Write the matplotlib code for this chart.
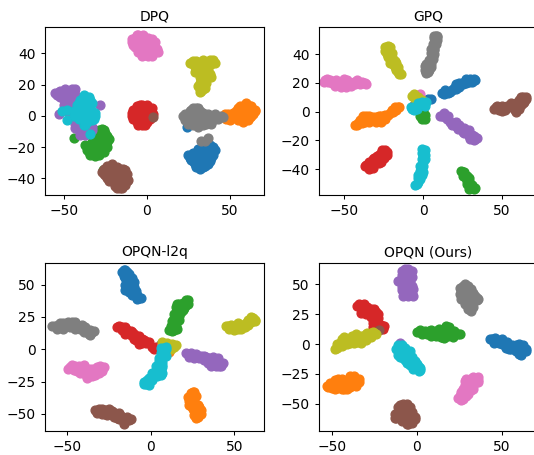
import matplotlib.pyplot as plt

# tsne points, one list per class
dpq_blue = [(24,-7),(25,-25),(27,-28),(29,-31),(32,-34),(35,-32),(38,-29),(40,-25),(41,-22),(38,-19),(34,-19),(31,-21),(30,-25),(33,-27),(36,-25),(37,-22),(32,-30),(28,-24),(34,-23),(39,-27),
            (26,-27),(28,-29),(30,-33),(34,-33),(37,-31),(39,-24),(40,-20),(36,-20),(32,-23),(35,-28),(30,-28),(38,-23),(27,-26),(33,-31),(36,-29)]
dpq_orange = [(41,0),(48,-2),(49,1),(52,-1),(55,-3),(58,-4),(61,-3),(63,0),(65,4),(62,6),(60,7),(57,4),(54,3),(58,1),(61,2),(53,0),(56,-1),(60,-1),(63,3),(58,6),
              (50,0),(47,1),(47,-1),(50,-3),(52,2),(55,1),(55,5),(58,3),(60,4),(64,1),(62,-1),(59,-3),(57,-2),(60,8),(63,6),(56,6),(65,3)]
dpq_green = [(-44,-14),(-36,-20),(-35,-23),(-31,-26),(-28,-23),(-26,-20),(-24,-17),(-24,-13),(-26,-9),(-27,-8.5),(-30,-13),(-33,-17),(-30,-19),(-27,-15),(-31,-22),(-34,-21),(-28,-11),(-25,-15),(-26.5,-35),
             (-37,-19),(-34,-25),(-33,-24),(-29,-25),(-36,-22),(-26,-23),(-24,-20),(-23,-15),(-25,-11),(-28,-17),(-32,-14),(-29,-9),(-33,-20),(-28,-20),(-26,-17),(-30,-16)]
dpq_red = [(-9,0),(-8,4),(-6,6),(-3,7),(0,7),(3,5),(4,1),(2,-2),(0,-4),(-3,-6),(-6,-4),(-8,-2),(-4,2),(-1,3),(-2,-1),(1,1),(-5,-1),(-3,4),
           (-7,2),(-9,2),(-4,7),(-1,6),(3,2),(2,3),(2,-1),(-1,-6),(-5,-6),(-7,-2),(-1,0),(-3,1),(-6,3),(1,-2),(-3,-3),(-1,5)]
dpq_purple = [(-55,14.5),(-52,16),(-49,17),(-45,17),(-44,15),(-52,12),(-50,10),(-47,13),(-45,10),(-49,6),(-46,6),(-53,1),(-28,7),(-42,3),(-43,-5),(-41,-9),(-39,-11),(-36,-9),(-33,-7),(-38,-6),(-50,13),
              (-54,13),(-53,15),(-51,14),(-48,15),(-46,16),(-48,11),(-43,17),(-43,13),(-50,7),(-47,8),(-43,8),(-48,3),(-44,5),(-44,-2),(-40,-12),(-37,-12),(-34,-9),(-33,-9),(-41,-6),(-43,-8)]
dpq_brown = [(4,-0.5),(-27,-36),(-24,-32),(-21,-31),(-18,-33),(-14,-34),(-12,-37),(-11,-41),(-13,-44),(-16,-46),(-19,-45),(-21,-42),(-24,-40),(-26,-37),(-22,-36),(-18,-38),(-15,-40),(-18,-42),(-21,-38),(-15,-36),
             (-25,-38),(-22,-40),(-19,-34),(-16,-34),(-13,-35),(-13,-40),(-15,-43),(-17,-44),(-20,-41),(-23,-33),(-26,-34),(-16,-38),(-20,-36),(-18,-46),(-12,-42),(-15,-46),(-24,-37),(-23,-42)]
dpq_pink = [(-9,47),(-7,50),(-5,52),(-2,52),(1,50),(5,47),(6,43),(4,40),(1,38),(-3,38),(-5,41),(-7,44),(-3,45),(0,45),(2,42),(-2,48),(-3,41),(2,47),
            (-8,45),(-9,49),(-6,52),(-4,50),(-1,50),(3,49),(5,44),(7,41),(3,38),(-1,39),(-4,43),(-6,47),(-1,42),(2,44),(4,46),(1,48),(-5,48),(-2,46)]
dpq_gray = [(22,0),(24,-2),(25,-5),(28,-6),(31,-7),(34,-6),(37,-4),(40,-3),(43,-2),(45,0),(41,1),(37,1),(34,2),(31,5),(28,5),(26,3),(29,1),(32,-2),(28,-2),(36,-2),(35,-16),(33,-16),(37,-14),
            (23,1),(26,-4),(23,-3),(26,-1),(27,1),(27,4),(30,3),(30,-4),(33,-1),(33,1),(33,-4),(35,-1),(38,-2),(39,0),(42,-1),(44,-1),(46,-1),(39,-5),(36,-5),(30,5),(32,3)]
dpq_olive = [(27,34),(29,31),(31,28),(32,25),(32,21),(32,17),(33,16),(35,18),(36,21),(39,25),(41,34),(38,36),(34,36),(31,34),(30,35),(35,32),(37,30),(34,27),(36,25),(33,30),
             (26,34),(28,35),(29,28),(32,29),(36,34),(39,33),(40,36),(36,28),(37,34),(33,33),(33,23),(34,20),(31,19),(32,15),(34,17),(38,27)]
dpq_cyan = [(-48,4),(-51,3),(-48,-3),(-34,-11.5),(-40,4),(-37,12),(-35,12),(-33,8),(-33,3),(-31,0),(-33,-3),(-36,-4),(-38,-6),(-41,-2),(-43,1),(-41,8),(-38,9),(-36,5),(-37,0),(-40,3),(-34,6),(-39,11),
            (-44,0),(-44,3),(-41,0),(-39,-2),(-36,-2),(-34,-1),(-32,-2),(-31,2),(-34,1),(-38,-3),(-37,3),(-42,5),(-39,6),(-37,7),(-35,9),(-42,7),(-40,10),(-36,10),(-34,10),(-38,13),(-37,-6)]

gpq_blue = [(5,9),(3,9),(12,13),(15,14),(17,14),(20,17),(22,18),(24,19),(26,21),(29,21),(32,23),(28,22),(23,20),(18,15),(25,19),
            (13,12),(14,15),(16,13),(19,16),(21,16),(21,19),(23,17),(27,20),(30,23),(31,21),(33,22),(27,23)]
gpq_orange = [(-43,-9),(-41,-8),(-38,-6),(-38,-3),(-35,-5),(-32,-6),(-29,-6),(-26,-5),(-25,-3),(-22,-2),(-19,0),(-17,2),(-15,3),(-36,-3),(-32,-4),(-28,-3),
              (-42,-9),(-40,-6),(-39,-8),(-37,-7),(-34,-7),(-34,-3),(-30,-4),(-30,-7),(-27,-7),(-24,-5),(-24,-2),(-27,-3),(-21,-1),(-20,1),(-18,3),(-16,3),(-17,1)]
gpq_green = [(-1,-5),(0,-4),(-1,-2),(0,1),(25,-42),(26,-44),(27,-46),(29,-48),(30,-50),(30,-53),(32,-54),(28,-45),
             (-2,-3),(1,-2),(-1,0),(1,-5),(24,-41),(26,-42),(25,-45),(28,-48),(29,-46),(28,-50),(31,-51),(29,-54),(33,-53)]
gpq_red = [(-36,-37),(-34,-40),(-33,-37),(-31,-35),(-29,-33),(-30,-36),(-27,-35),(-25,-32),(-24,-29),(-26,-27),(-23,-30),(-28,-30),(-31,-32),(-6,5),
           (-37,-38),(-35,-38),(-32,-39),(-34,-35),(-32,-33),(-28,-36),(-29,-31),(-26,-33),(-27,-29),(-24,-27),(-23,-28),(-25,-30),(-30,-34)]
gpq_purple = [(12,-3),(14,-4),(17,-7),(20,-9),(21,-10),(24,-11),(27,-13),(28,-15),(31,-16),(33,-19),(30,-19),(25,-14),(19,-8),
              (11,-3),(13,-1),(15,-5),(16,-3),(18,-9),(21,-7),(22,-12),(23,-9),(26,-11),(26,-15),(29,-13),(29,-17),(32,-17),(34,-18),(32,-20)]
gpq_brown = [(46,3),(49,2),(51,3),(50,0.5),(53,4),(58,5),(58,1),(60,3),(62,5),(61,8),(63,10),(65,9),(63,6),(55,5),(60,7),
             (45,2),(47,4),(48,1),(52,1),(50,4),(56,3),(56,6),(57,3),(59,0),(61,2),(59,6),(62,10),(64,7),(65,10),(62,7)]
gpq_pink = [(-62,22),(-60,21),(-58,20),(-55,19),(-52,19),(-50,18),(-50,23),(-47,20),(-44,21),(-41,21),(-38,20),(-55,22),(-45,19),(-2,12),(-37,20),
            (-63,21),(-61,23),(-59,22),(-57,21),(-56,18),(-53,21),(-52,17),(-51,21),(-49,17),(-48,22),(-46,18),(-43,19),(-42,22),(-40,19),(-39,21),(-36,19)]
gpq_gray = [(2,28),(3,31),(1,32),(4,33),(5,36),(6,39),(6,42),(7,44),(8,47),(8,50),(9,52),(8,53),(7,43),(4,29),
            (1,29),(2,27),(3,28),(2,33),(3,34),(5,31),(5,33),(4,36),(6,37),(5,41),(7,40),(5,44),(7,46),(6,47),(8,49),(7,51),(9,50),(9,53),(7,53)]
gpq_olive = [(-23,44),(-24,42),(-22,41),(-21,37),(-20,34),(-18,35),(-18,31),(-16,28),(-15,26),(-20,38),(-22,46),(-7,11),(-5,9),(-6,12),(-3,10),(-1,8),
             (-24,45),(-23,40),(-22,43),(-21,45),(-20,41),(-22,38),(-21,34),(-19,33),(-19,36),(-17,34),(-17,29),(-16,31),(-15,28),(-14,26)]
gpq_cyan = [(-4,-50),(-2,-47),(-1,-44),(-2,-41),(-1,-38),(0,-35),(0,-31),(0,-28),(1,-30),(-1,-42),(-7,2),(-5,3),(-2,5),(-1,7),(1,6),
            (-5,-51),(-3,-49),(-3,-44),(0,-42),(-2,-38),(0,-38),(-1,-33),(1,-33),(-1,-29),(1,-27),(-1,-26),(-3,-46),(-8,3),(-6,1),(-4,2),(-3,6),(1,4),(2,7),(-1,5)]

l2q_blue = [(-16,61),(-14,60),(-16,57),(-13,56),(-12,53),(-14,48),(-12,46),(-10,48),(-10,44),(-8,42),(-7,40),(-11,50),(6,4),
            (-17,60),(-15,61),(-15,55),(-14,58),(-13,58),(-11,55),(-15,50),(-15,46),(-13,50),(-13,44),(-11,42),(-9,45),(-9,41),(-8,39),(-6,40),(-10,52),(-11,47),(7,2)]
l2q_orange = [(25,-33),(24,-36),(23,-40),(25,-42),(25,-46),(27,-49),(28,-52),(30,-47),(28,-43),(26,-38),(26,-33),(11,-2),
              (24,-34),(25,-38),(22,-37),(24,-44),(26,-41),(26,-47),(28,-46),(29,-45),(29,-50),(26,-51),(30,-50),(27,-53),(27,-36),(29,-49),(23,-43)]
l2q_green = [(12,18),(13,16),(16,16),(14,20),(16,24),(14,27),(17,30),(16,35),(19,33),(20,32),(22,38),(21,34),(17,26),(18,29),
             (11,15),(14,15),(15,18),(13,22),(15,21),(15,27),(17,23),(14,24),(16,30),(17,35),(15,33),(19,36),(22,35),(21,38),(19,30),(13,14)]
l2q_red = [(-19,18),(-17,17),(-14,15),(-15,12),(-12,11),(-9,10),(-9,7),(-6,8),(-5,5),(-2,6),(-12,14),(-7,6),(3,2),(5,1),
           (-20,17),(-17,15),(-15,17),(-13,13),(-16,14),(-11,13),(-10,8),(-8,9),(-7,10),(-4,7),(-5,8),(-3,5),(-1,6),(-10,12),(-7,4),(1,2),(2,0)]
l2q_purple = [(22,-4),(25,-5),(28,-6),(29,-7),(33,-6),(35,-7),(36,-11),(39,-8),(41,-10),(42,-13),(38,-12),(32,-5),
              (21,-3),(23,-6),(24,-3),(27,-4),(26,-7),(30,-5),(32,-8),(34,-9),(37,-6),(37,-9),(40,-7),(40,-12),(43,-11),(41,-13),(34,-11),(36,-13),(39,-13)]
l2q_brown = [(-30,-48),(-27,-47),(-27,-50),(-24,-50),(-21,-49),(-20,-53),(-18,-51),(-15,-53),(-16,-56),(-13,-55),(-24,-48),
             (-33,-47),(-32,-49),(-29,-46),(-29,-50),(-26,-51),(-25,-46),(-22,-52),(-23,-48),(-19,-49),(-19,-54),(-17,-54),(-14,-52),(-16,-58),(-12,-54),(-31,-46)]
l2q_pink = [(-48,-14),(-45,-13),(-44,-17),(-41,-15),(-39,-19),(-37,-15),(-37,-21),(-34,-18),(-31,-18),(-29,-15),(-32,-14),(-41,-17),(7,3),
            (-49,-15),(-47,-12),(-46,-16),(-43,-13),(-42,-18),(-40,-12),(-38,-17),(-36,-18),(-35,-15),(-35,-21),(-33,-20),(-31,-15),(-29,-17),(-28,-14),(-30,-13),(-38,-22),(-45,-15)]
l2q_gray = [(-57,18),(-55,19),(-53,17),(-50,20),(-48,17),(-46,18),(-47,21),(-44,19),(-42,16),(-38,15),(-37,12),(-35,13),(-39,17),
            (-59,18),(-56,16),(-54,20),(-52,20),(-51,17),(-49,21),(-45,21),(-45,16),(-41,19),(-40,15),(-40,13),(-36,15),(-36,11),(-34,14),(-48,19),(-52,16)]
l2q_olive = [(46,18),(49,17),(51,19),(54,16),(55,19),(57,20),(59,22),(61,24),(60,21),(8,4),(11,3),(14,2),(12,0),(10,5),
             (45,18),(47,16),(48,19),(50,15),(52,16),(52,20),(53,18),(56,17),(58,19),(58,23),(60,25),(62,23),(62,22),(9,2),(7,6),(13,4),(15,3),(10,0)]
l2q_cyan = [(-3,-27),(-2,-24),(1,-21),(3,-19),(3,-16),(5,-13),(7,-18),(7,-10),(7,-6),(8,-3),(8,1),(7,-14),(6,-20),
            (-4,-27),(-4,-25),(-1,-28),(-1,-22),(1,-24),(2,-18),(4,-21),(3,-13),(6,-15),(5,-9),(7,-12),(5,-7),(9,-5),(6,-3),(9,0),(6,1),(9,2),(1,-18)]

ours_blue = [(44,4),(47,3),(50,4),(50,0),(53,-2),(55,-4),(58,-2),(61,-3),(62,-6),(60,-8),(64,-4),(56,-1),(52,-3),
             (43,4),(45,1),(46,5),(48,1),(50,2),(52,0),(53,2),(55,-2),(58,-6),(57,-4),(60,-5),(60,0),(62,-1),(62,-4),(64,-6),(61,-9),(58,-1),(54,-4)]
ours_orange = [(-52,-36),(-49,-33),(-47,-37),(-46,-30),(-44,-38),(-43,-33),(-41,-35),(-39,-36),(-38,-30),(-35,-30),(-34,-32),(-37,-33),(-48,-30),(-39,-27),(-46,-29),
               (-53,-35),(-51,-33),(-50,-37),(-48,-38),(-47,-34),(-45,-31),(-45,-35),(-43,-38),(-41,-31),(-41,-38),(-39,-33),(-37,-27),(-36,-35),(-34,-29),(-36,-29),(-42,-34),(-44,-29),(-40,-29)]
ours_green = [(2,10),(5,11),(6,8),(9,9),(11,11),(13,8),(15,6),(16,12),(18,11),(16,13),(20,11),(22,8),(24,8),(18,7),(10,8),
              (0,10),(2,12),(4,9),(7,11),(8,12),(8,7),(11,7),(12,11),(13,13),(14,6),(16,5),(15,10),(17,15),(19,14),(20,9),(22,11),(21,6),(25,8),(3,8)]
ours_red = [(-34,34),(-32,30),(-33,26),(-29,31),(-28,25),(-26,27),(-24,24),(-25,21),(-23,18),(-25,15),(-22,14),(-19,15),(-23,25),
            (-35,32),(-33,33),(-31,34),(-32,28),(-30,28),(-30,25),(-27,29),(-25,29),(-27,23),(-24,27),(-23,22),(-26,18),(-24,17),(-26,14),(-23,15),(-20,13),(-21,16)]
ours_purple = [(-10,53),(-9,58),(-8,61),(-5,61),(-4,59),(-6,53),(-8,50),(-4,49),(-7,45),(-7,42),(-3,42),(-9,48),(-10,1),(-5,55),
               (-11,53),(-9,55),(-9,61),(-7,63),(-5,63),(-3,61),(-3,56),(-7,55),(-4,53),(-3,49),(-9,45),(-5,46),(-8,40),(-5,40),(-2,40),(-2,46),(-7,58),(-7,48)]
ours_brown = [(-12,-62),(-11,-56),(-10,-51),(-6,-50),(-5,-55),(-2,-60),(-2,-64),(-6,-67),(-9,-65),(-7,-60),(-9,-56),(-4,-63),(-22.5,12),
              (-13,-62),(-13,-59),(-10,-59),(-11,-53),(-8,-50),(-9,-53),(-7,-54),(-4,-53),(-4,-58),(-7,-64),(-3,-66),(-1,-63),(-1,-61),(-5,-67),(-9,-62),(-5,-61),(-3,-57)]
ours_pink = [(25,-44),(27,-46),(28,-41),(29,-36),(28,-31),(31,-29),(35,-29),(36,-32),(33,-35),(32,-39),(30,-42),(31,-33),
             (24,-45),(26,-47),(26,-42),(27,-38),(28,-34),(29,-29),(33,-28),(36,-30),(34,-32),(31,-36),(29,-44),(30,-39),(33,-38),(36,-28),(26,-40),(30,-31)]
ours_gray = [(26,41),(27,46),(27,49),(30,49),(32,46),(34,40),(35,37),(32,33),(31,29),(28,34),(30,38),(29,43),
             (25,42),(26,44),(25,47),(28,50),(29,47),(31,43),(33,43),(35,39),(36,38),(33,36),(33,31),(30,31),(28,38),(26,38),(29,35),(30,29),(32,28),(32,40)]
ours_olive = [(-47,-3),(-45,1),(-43,6),(-41,2),(-41,0),(-38,4),(-36,8),(-35,2),(-32,3),(-31,7),(-29,5),(-27,9),(-25,9),(-28,7),(-37,1),
              (-48,-4),(-46,-1),(-47,0),(-44,4),(-44,-2),(-42,3),(-42,5),(-39,1),(-37,6),(-38,7),(-35,6),(-34,4),(-33,7),(-30,3),(-30,8),(-27,6),(-26,10),(-24,8),(-29,9),(-33,1)]
ours_cyan = [(-11,-6),(-9,-1),(-7,-3),(-9,-8),(-6,-8),(-5,-12),(-4,-15),(-3,-11),(-1,-17),(0,-20),(2,-22),(-2,-21),(-7,-13),
             (-12,-4),(-11,-1),(-10,-3),(-8,-4),(-8,-6),(-11,-9),(-10,-11),(-8,-12),(-7,-10),(-5,-9),(-4,-6),(-3,-14),(-6,-16),(-4,-18),(-1,-14),(0,-17),(1,-19),(2,-20),(1,-23),(-2,-18)]

titles = ['DPQ', 'GPQ', 'OPQN-l2q', 'OPQN (Ours)']
dpq = [dpq_blue, dpq_orange, dpq_green, dpq_red, dpq_purple, dpq_brown, dpq_pink, dpq_gray, dpq_olive, dpq_cyan]
gpq = [gpq_blue, gpq_orange, gpq_green, gpq_red, gpq_purple, gpq_brown, gpq_pink, gpq_gray, gpq_olive, gpq_cyan]
l2q = [l2q_blue, l2q_orange, l2q_green, l2q_red, l2q_purple, l2q_brown, l2q_pink, l2q_gray, l2q_olive, l2q_cyan]
ours = [ours_blue, ours_orange, ours_green, ours_red, ours_purple, ours_brown, ours_pink, ours_gray, ours_olive, ours_cyan]
panels = [dpq, gpq, l2q, ours]

W, H = 534, 455
# axes boxes in pixels: left, top, right, bottom (right column runs past the crop)
boxes = [(45, 27, 264, 195), (319, 27, 538, 195), (45, 263, 264, 431), (319, 263, 538, 431)]
xlims = [(-61.3, 70.7), (-66, 72.8), (-63, 67.6), (-57.4, 71)]
ylims = [(-50.7, 56.8), (-58, 59), (-63.2, 66.7), (-73, 68)]
xticks = [-50, 0, 50]
yticks = [[-40, -20, 0, 20, 40], [-40, -20, 0, 20, 40], [-50, -25, 0, 25, 50], [-50, -25, 0, 25, 50]]

fig = plt.figure(figsize=(W / 100, H / 100), dpi=100)
for i in range(4):
    l, t, r, b = boxes[i]
    ax = fig.add_axes([l / W, 1 - b / H, (r - l) / W, (b - t) / H])
    for c, pts in enumerate(panels[i]):
        xs = [p[0] for p in pts]
        ys = [p[1] for p in pts]
        ax.scatter(xs, ys, s=40, color='C%d' % c, zorder=2)
    ax.set_xlim(xlims[i])
    ax.set_ylim(ylims[i])
    ax.set_xticks(xticks)
    ax.set_yticks(yticks[i])
    ax.tick_params(labelsize=10, length=3.2, width=0.75)
    ax.set_title(titles[i], fontsize=10, pad=5)

fig.savefig('out.png', dpi=100)
